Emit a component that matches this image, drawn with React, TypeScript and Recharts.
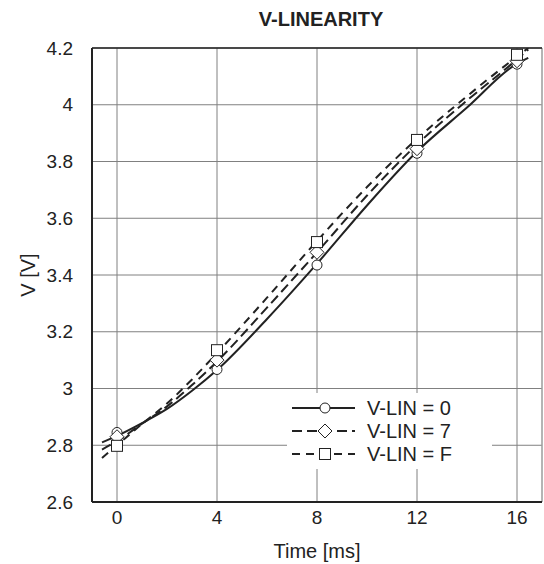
import React from 'react';
import {
    ComposedChart,
    Line,
    Scatter,
    XAxis,
    YAxis,
    CartesianGrid,
    ReferenceLine,
    Legend,
    Label
} from 'recharts';

// measured points (markers)
const markerTimes = [0, 4, 8, 12, 16];
const vlin0Marks = [2.845, 3.067, 3.435, 3.829, 4.143];
const vlin7Marks = [2.83, 3.1, 3.48, 3.845, 4.155];
const vlinFMarks = [2.798, 3.135, 3.516, 3.876, 4.176];

// fitted curves
const curveTimes = [-0.6, 0, 1, 2, 3, 4, 6, 8, 10, 12, 14, 16, 16.45];
const vlin0Curve = [2.81, 2.833, 2.878, 2.928, 2.992, 3.065, 3.245, 3.44, 3.645, 3.835, 3.99, 4.145, 4.165];
const vlin7Curve = [2.785, 2.815, 2.876, 2.937, 3.012, 3.095, 3.285, 3.48, 3.68, 3.86, 4.015, 4.16, 4.195];
const vlinFCurve = [2.755, 2.8, 2.875, 2.947, 3.032, 3.125, 3.32, 3.52, 3.71, 3.88, 4.03, 4.17, 4.2];

const xTicks = [0, 4, 8, 12, 16];
const yTicks = [2.6, 2.8, 3.0, 3.2, 3.4, 3.6, 3.8, 4.0, 4.2];

const seriesNames = ['V-LIN = 0', 'V-LIN = 7', 'V-LIN = F'];

const toPoints = (xs: number[], ys: number[]) => xs.map((x, i) => ({ x, y: ys[i] }));

const INK = '#222';
const FONT = '"Liberation Sans", Arial, Helvetica, sans-serif';
const dashes = [undefined, '10 5', '8 6'];

const CircleMark = ({ cx, cy }: any) => (
    <circle cx={cx} cy={cy} r={5} fill="#fff" stroke={INK} strokeWidth={1} />
);
const DiamondMark = ({ cx, cy }: any) => (
    <polygon
        points={`${cx},${cy - 7} ${cx + 7},${cy} ${cx},${cy + 7} ${cx - 7},${cy}`}
        fill="#fff"
        stroke={INK}
        strokeWidth={1}
    />
);
const SquareMark = ({ cx, cy }: any) => (
    <rect x={cx - 5.5} y={cy - 5.5} width={11} height={11} fill="#fff" stroke={INK} strokeWidth={1} />
);
const marks = [CircleMark, DiamondMark, SquareMark];

const LegendBox = () => (
    <svg width={205} height={76} style={{ display: 'block', background: '#fff' }}>
        {seriesNames.map((name, i) => {
            const y = 15 + i * 23;
            const Mark = marks[i];
            return (
                <g key={name}>
                    <line x1={5} y1={y} x2={68} y2={y} stroke={INK} strokeWidth={2} strokeDasharray={dashes[i]} />
                    <Mark cx={38} cy={y} />
                    <text x={80} y={y} dominantBaseline="central" fontSize={20} fill={INK} fontFamily={FONT}>
                        {name}
                    </text>
                </g>
            );
        })}
    </svg>
);

export default function App() {
    const curves = [
        toPoints(curveTimes, vlin0Curve),
        toPoints(curveTimes, vlin7Curve),
        toPoints(curveTimes, vlinFCurve)
    ];
    const points = [
        toPoints(markerTimes, vlin0Marks),
        toPoints(markerTimes, vlin7Marks),
        toPoints(markerTimes, vlinFMarks)
    ];

    return (
        <div style={{ position: 'fixed', left: 0, top: 0, width: 544, height: 564, background: '#fff', fontFamily: FONT }}>
            <div
                style={{
                    position: 'absolute',
                    left: 96,
                    width: 450,
                    top: 8,
                    textAlign: 'center',
                    fontWeight: 'bold',
                    fontSize: 20,
                    color: INK
                }}
            >
                V-LINEARITY
            </div>
            <ComposedChart width={544} height={564} margin={{ top: 48, right: 2, bottom: 0, left: 0 }}>
                <CartesianGrid stroke="#808080" strokeWidth={1} />
                <XAxis
                    dataKey="x"
                    type="number"
                    domain={[-1, 17]}
                    ticks={xTicks}
                    allowDataOverflow
                    height={62}
                    stroke={INK}
                    strokeWidth={2}
                    tickLine={false}
                    tickSize={0}
                    tickMargin={9}
                    tick={{ fill: INK, fontSize: 19, fontFamily: FONT }}
                >
                    <Label value="Time [ms]" position="insideBottom" offset={6} fill={INK} fontSize={20} fontFamily={FONT} />
                </XAxis>
                <YAxis
                    type="number"
                    domain={[2.6, 4.2]}
                    ticks={yTicks}
                    allowDataOverflow
                    width={92}
                    stroke={INK}
                    strokeWidth={2}
                    tickLine={false}
                    tickSize={0}
                    tickMargin={19}
                    tickFormatter={(v: number) => String(+v.toFixed(1))}
                    tick={{ fill: INK, fontSize: 19, fontFamily: FONT }}
                >
                    <Label
                        value="V [V]"
                        angle={-90}
                        position="insideLeft"
                        offset={28}
                        fill={INK}
                        fontSize={20}
                        fontFamily={FONT}
                        style={{ textAnchor: 'middle' }}
                    />
                </YAxis>
                <ReferenceLine x={17} stroke="#aaa" strokeWidth={1} ifOverflow="visible" />
                <ReferenceLine y={4.2} stroke={INK} strokeWidth={1.5} ifOverflow="visible" />
                {curves.map((d, i) => (
                    <Line
                        key={'c' + i}
                        data={d}
                        dataKey="y"
                        type="monotone"
                        stroke={INK}
                        strokeWidth={2}
                        strokeDasharray={dashes[i]}
                        dot={false}
                        activeDot={false}
                        isAnimationActive={false}
                        legendType="none"
                    />
                ))}
                {points.map((d, i) => (
                    <Scatter
                        key={'m' + i}
                        data={d}
                        dataKey="y"
                        shape={marks[i]}
                        isAnimationActive={false}
                        legendType="none"
                    />
                ))}
                <Legend
                    layout="vertical"
                    align="center"
                    verticalAlign="middle"
                    content={<LegendBox />}
                    wrapperStyle={{ left: 287, top: 393, width: 205, height: 76 }}
                />
            </ComposedChart>
        </div>
    );
}
